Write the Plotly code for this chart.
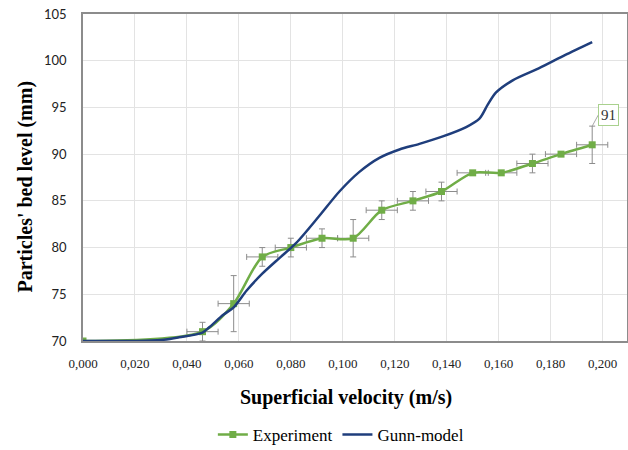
import plotly.graph_objects as go

# Experiment data
exp_v = [0.000, 0.046, 0.058, 0.069, 0.080, 0.092, 0.104, 0.115, 0.127, 0.138,
         0.150, 0.161, 0.173, 0.184, 0.196]
exp_h = [70, 71, 74, 79, 80, 81, 81, 84, 85, 86, 88, 88, 89, 90, 91]
exp_h_err = [0, 1, 3, 1, 1, 1, 2, 1, 1, 1, 0, 0, 1, 0, 2]
exp_v_err = [0, 0.006, 0.006, 0.006, 0.006, 0.006, 0.006, 0.006, 0.006, 0.006,
             0.006, 0.006, 0.006, 0.006, 0.006]

# Gunn-model curve
gunn_v = [0.000, 0.020, 0.030, 0.037, 0.046, 0.0487, 0.054, 0.058, 0.063, 0.069,
          0.0757, 0.0821, 0.091, 0.0987, 0.1064, 0.1141, 0.1218, 0.1295, 0.1385,
          0.1475, 0.1526, 0.1558, 0.159, 0.1654, 0.1756, 0.1855, 0.196]
gunn_h = [70, 70, 70.1, 70.4, 70.9, 71.5, 72.8, 73.6, 75.4, 77.2,
          78.9, 80.5, 83.4, 86.0, 88.1, 89.6, 90.5, 91.1, 91.9,
          92.9, 93.8, 95.3, 96.6, 97.9, 99.2, 100.6, 102]

x_ticks = [0.00, 0.02, 0.04, 0.06, 0.08, 0.10, 0.12, 0.14, 0.16, 0.18, 0.20]
x_tick_labels = ["0,000", "0,020", "0,040", "0,060", "0,080", "0,100",
                 "0,120", "0,140", "0,160", "0,180", "0,200"]
y_ticks = [70, 75, 80, 85, 90, 95, 100, 105]

GREEN = "#70ad47"
BLUE = "#1f3e7c"
GRAY = "#8c8c8c"
SERIF = "Liberation Serif, Times New Roman, serif"

fig = go.Figure()

fig.add_trace(go.Scatter(
    x=exp_v, y=exp_h, name="Experiment", mode="lines+markers",
    line=dict(color=GREEN, width=2.5, shape="spline", smoothing=0.8),
    marker=dict(symbol="square", size=7, color=GREEN),
    error_y=dict(type="data", array=exp_h_err, color=GRAY, thickness=1, width=3),
    error_x=dict(type="data", array=exp_v_err, color=GRAY, thickness=1, width=3),
))

fig.add_trace(go.Scatter(
    x=gunn_v, y=gunn_h, name="Gunn-model", mode="lines",
    line=dict(color=BLUE, width=2.5, shape="spline", smoothing=0.8),
))

# Data label for the last experiment point
fig.add_annotation(
    x=exp_v[-1], y=exp_h[-1] + exp_h_err[-1], xref="x", yref="y",
    text="91", showarrow=True, arrowhead=0, arrowwidth=1, arrowcolor="#aaaaaa",
    ax=6, ay=-11, xanchor="left",
    font=dict(family=SERIF, size=15, color="#333333"),
    bordercolor="#a9d18e", borderwidth=1, borderpad=2, bgcolor="white",
)

# Axis titles
fig.add_annotation(
    text="<b>Superficial velocity (m/s)</b>", xref="paper", yref="paper",
    x=0.4835, y=-0.174, xanchor="center", yanchor="middle", showarrow=False,
    font=dict(family=SERIF, size=20, color="black"),
)
fig.add_annotation(
    text="<b>Particles' bed level (mm)</b>", xref="paper", yref="paper",
    x=0, xshift=-58, y=0.4725, xanchor="center", yanchor="middle",
    textangle=-90, showarrow=False,
    font=dict(family=SERIF, size=20, color="black"),
)

fig.update_layout(
    width=628, height=450,
    margin=dict(l=83, r=1, t=14, b=109, autoexpand=False),
    paper_bgcolor="white", plot_bgcolor="white",
    separators=",.",
    showlegend=True,
    legend=dict(
        orientation="h", x=0.474, xanchor="center", y=-0.232, yanchor="top",
        font=dict(family=SERIF, size=17, color="black"),
        itemwidth=30, tracegroupgap=0,
    ),
)

fig.update_xaxes(
    range=[0, 0.2094], tickvals=x_ticks, ticktext=x_tick_labels,
    showgrid=True, gridcolor="#e3e3e3", gridwidth=1,
    showline=True, linecolor=GRAY, linewidth=1.5, mirror=True,
    ticks="", zeroline=False, automargin=False,
    tickfont=dict(family=SERIF, size=13, color="#222222"),
    ticklabelstandoff=10,
)
fig.update_yaxes(
    range=[70, 105], tickvals=y_ticks,
    showgrid=True, gridcolor="#e3e3e3", gridwidth=1,
    showline=True, linecolor=GRAY, linewidth=1.5, mirror=True,
    ticks="", zeroline=False, automargin=False,
    tickfont=dict(family="Lato", size=13, color="#222222"),
    ticklabelstandoff=12,
)

fig.write_html("out.html")
